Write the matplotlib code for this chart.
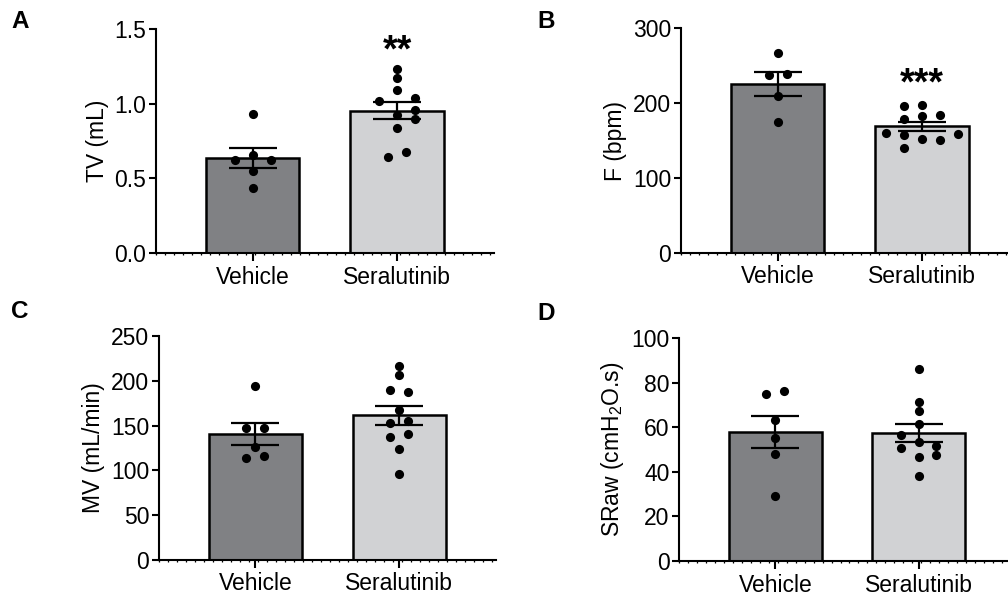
"""Four-panel bar + dot chart: ventilation parameters, Vehicle vs Seralutinib."""

import matplotlib

matplotlib.use("Agg")
import matplotlib.pyplot as plt  # noqa: E402
import numpy as np  # noqa: E402
from matplotlib.ticker import FixedLocator, MultipleLocator  # noqa: E402

C = {
    "vehicle": "#808184",
    "seral": "#d1d2d4",
    "ink": "#000000",
}

GROUPS = ["Vehicle", "Seralutinib"]

# individual animals
TV_VEH = [0.931, 0.624, 0.658, 0.620, 0.551, 0.438]
TV_SER = [1.231, 1.169, 1.093, 1.015, 1.036, 0.960, 0.927, 0.896, 0.840, 0.640, 0.673]
F_VEH = [267.2, 237.8, 239.1, 208.9, 174.7]
F_SER = [195.6, 197.3, 179.2, 182.3, 184.0, 160.5, 157.3, 152.0, 150.7, 158.7, 140.5]
MV_VEH = [193.7, 147.4, 147.4, 125.9, 113.7, 115.6]
MV_SER = [216.7, 206.7, 190.0, 187.0, 167.8, 153.0, 155.6, 137.0, 140.4, 124.1, 95.9]
SRAW_VEH = [75.2, 76.4, 63.1, 55.3, 48.2, 29.4]
SRAW_SER = [86.0, 71.6, 67.4, 61.4, 56.6, 53.5, 50.8, 51.7, 46.7, 47.6, 38.2]

# scatter layout: horizontal slot of each dot (one slot ~ 9 px)
TV_VEH_SLOT = [0, -2, 0, 2, 0, 0]
TV_SER_SLOT = [0, 0, 0, -2, 2, 2, 0, 2, 0, -1, 1]
F_VEH_SLOT = [0, -1, 1, 0, 0]
F_SER_SLOT = [-2, 0, -2, 0, 2, -4, -2, 0, 2, 4, -2]
MV_VEH_SLOT = [0, -1, 1, 0, -1, 1]
MV_SER_SLOT = [0, 0, -1, 1, 0, -1, 1, -1, 1, 0, 0]
SRAW_VEH_SLOT = [-1, 1, 0, 0, 0, 0]
SRAW_SER_SLOT = [0, 0, 0, 0, -2, 0, -2, 2, 0, 2, 0]

SLOT = 0.0624
FS = 16.5
W, H = 1008, 598

plt.rcParams.update(
    {
        "font.family": ["Liberation Sans", "DejaVu Sans"],
        "font.size": FS,
        "mathtext.fontset": "custom",
        "mathtext.rm": "Liberation Sans",
        "mathtext.it": "Liberation Sans:italic",
        "mathtext.default": "regular",
        "axes.linewidth": 1.5,
        "xtick.major.width": 1.5,
        "ytick.major.width": 1.5,
    }
)


def px_axes(fig, left, y_axis_px, top_px, xlim=(-0.67, 1.67), spacing=144.3):
    width = (xlim[1] - xlim[0]) * spacing
    ax = fig.add_axes([left / W, 1 - y_axis_px / H, width / W, (y_axis_px - top_px) / H])
    ax.set_xlim(*xlim)
    return ax


def panel(ax, veh, ser, veh_slot, ser_slot, ylim, step, ylabel, fmt, letter, letter_xy, stars=None, star_y=None):
    for i, (vals, slots, col) in enumerate(((veh, veh_slot, C["vehicle"]), (ser, ser_slot, C["seral"]))):
        vals = np.asarray(vals)
        mean = vals.mean()
        sem = vals.std(ddof=1) / np.sqrt(len(vals))
        ax.bar(i, mean, width=0.645, color=col, edgecolor=C["ink"], linewidth=1.8, zorder=2)
        ax.plot(i + np.asarray(slots) * SLOT, vals, "o", color=C["ink"], markersize=6.6,
                markeredgewidth=0, zorder=3)
        ax.errorbar(i, mean, yerr=sem, color=C["ink"], elinewidth=1.6, capsize=17.5,
                    capthick=1.6, zorder=4)
    ax.set_ylim(*ylim)
    ax.yaxis.set_major_locator(MultipleLocator(step))
    ax.yaxis.set_major_formatter(plt.FuncFormatter(lambda v, _: fmt.format(v)))
    ax.set_xticks([0, 1])
    ax.set_xticklabels(GROUPS)
    ax.xaxis.set_minor_locator(FixedLocator(np.arange(-0.67, 1.67, 0.0625)))
    ax.tick_params(axis="x", which="major", length=6, pad=3, labelsize=FS)
    ax.tick_params(axis="x", which="minor", length=1.6, width=0.9)
    ax.tick_params(axis="y", length=5, pad=2, labelsize=FS)
    for side in ("top", "right"):
        ax.spines[side].set_visible(False)
    ax.set_ylabel(ylabel, fontsize=FS, labelpad=4)
    ax.figure.text(letter_xy[0] / W, 1 - letter_xy[1] / H, letter, fontsize=17.5,
                   fontweight="bold", ha="left", va="baseline")
    if stars:
        ax.text(1, star_y, stars, ha="center", va="baseline", fontsize=27, fontweight="bold")


fig = plt.figure(figsize=(W / 100, H / 100), dpi=100)
fig.patch.set_facecolor("white")

ax_a = px_axes(fig, 156, 253, 29)
ax_b = px_axes(fig, 681, 252.7, 28.3)
ax_c = px_axes(fig, 159, 560, 336, spacing=144.0)
ax_d = px_axes(fig, 679.3, 561, 338.3, spacing=143.3)

panel(ax_a, TV_VEH, TV_SER, TV_VEH_SLOT, TV_SER_SLOT, (0, 1.5), 0.5, "TV (mL)", "{:.1f}",
      "A", (11, 28), "**", 1.285)
panel(ax_b, F_VEH, F_SER, F_VEH_SLOT, F_SER_SLOT, (0, 300), 100, "F (bpm)", "{:.0f}",
      "B", (537, 28), "***", 212)
panel(ax_c, MV_VEH, MV_SER, MV_VEH_SLOT, MV_SER_SLOT, (0, 250), 50, "MV (mL/min)", "{:.0f}",
      "C", (11, 318))
panel(ax_d, SRAW_VEH, SRAW_SER, SRAW_VEH_SLOT, SRAW_SER_SLOT, (0, 100), 20,
      "SRaw (cmH$_2$O.s)", "{:.0f}", "D", (537, 320))

fig.savefig("out.png", dpi=100, facecolor="white")
